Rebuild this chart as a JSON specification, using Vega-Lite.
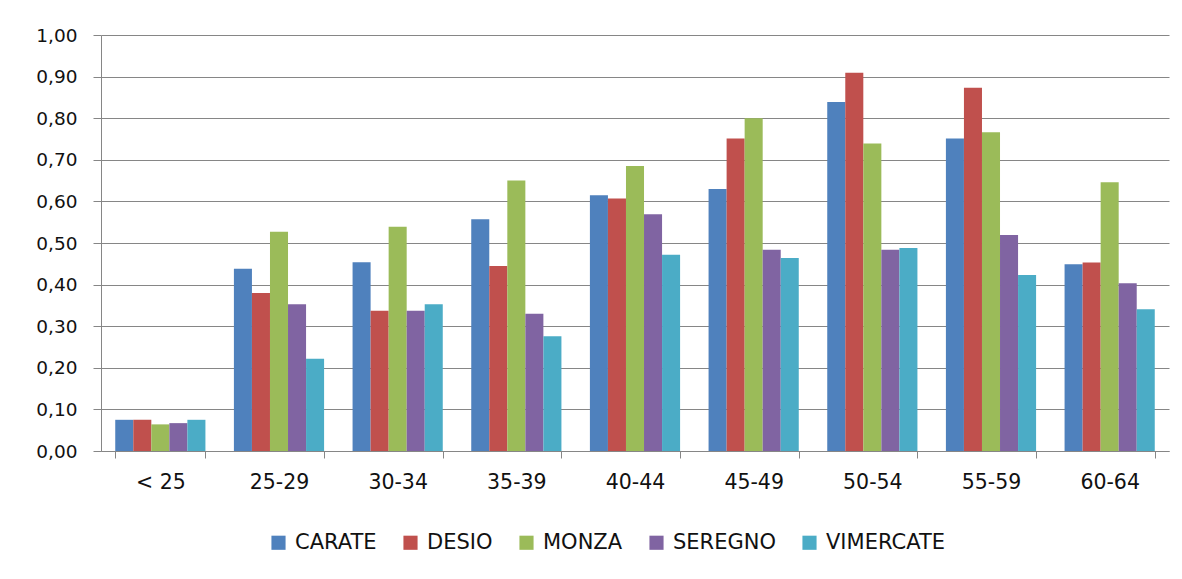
{
  "$schema": "https://vega.github.io/schema/vega-lite/v6.json",
  "autosize": {"type": "none"},
  "padding": {"left": 101, "top": 35, "right": 13, "bottom": 128},
  "width": 1068,
  "height": 416,
  "background": "white",
  "config": {
    "locale": {"number": {"decimal": ",", "thousands": ".", "grouping": [3], "currency": ["€", ""]}},
    "view": {"stroke": null},
    "font": "DejaVu Sans"
  },
  "data": {
    "values": [
      {"age": "< 25", "city": "CARATE", "v": 0.075},
      {"age": "< 25", "city": "DESIO", "v": 0.075},
      {"age": "< 25", "city": "MONZA", "v": 0.064},
      {"age": "< 25", "city": "SEREGNO", "v": 0.067},
      {"age": "< 25", "city": "VIMERCATE", "v": 0.075},
      {"age": "25-29", "city": "CARATE", "v": 0.438},
      {"age": "25-29", "city": "DESIO", "v": 0.380},
      {"age": "25-29", "city": "MONZA", "v": 0.527},
      {"age": "25-29", "city": "SEREGNO", "v": 0.353},
      {"age": "25-29", "city": "VIMERCATE", "v": 0.222},
      {"age": "30-34", "city": "CARATE", "v": 0.454},
      {"age": "30-34", "city": "DESIO", "v": 0.337},
      {"age": "30-34", "city": "MONZA", "v": 0.539},
      {"age": "30-34", "city": "SEREGNO", "v": 0.337},
      {"age": "30-34", "city": "VIMERCATE", "v": 0.353},
      {"age": "35-39", "city": "CARATE", "v": 0.557},
      {"age": "35-39", "city": "DESIO", "v": 0.445},
      {"age": "35-39", "city": "MONZA", "v": 0.650},
      {"age": "35-39", "city": "SEREGNO", "v": 0.330},
      {"age": "35-39", "city": "VIMERCATE", "v": 0.276},
      {"age": "40-44", "city": "CARATE", "v": 0.615},
      {"age": "40-44", "city": "DESIO", "v": 0.607},
      {"age": "40-44", "city": "MONZA", "v": 0.685},
      {"age": "40-44", "city": "SEREGNO", "v": 0.569},
      {"age": "40-44", "city": "VIMERCATE", "v": 0.472},
      {"age": "45-49", "city": "CARATE", "v": 0.630},
      {"age": "45-49", "city": "DESIO", "v": 0.751},
      {"age": "45-49", "city": "MONZA", "v": 0.800},
      {"age": "45-49", "city": "SEREGNO", "v": 0.484},
      {"age": "45-49", "city": "VIMERCATE", "v": 0.464},
      {"age": "50-54", "city": "CARATE", "v": 0.839},
      {"age": "50-54", "city": "DESIO", "v": 0.909},
      {"age": "50-54", "city": "MONZA", "v": 0.739},
      {"age": "50-54", "city": "SEREGNO", "v": 0.484},
      {"age": "50-54", "city": "VIMERCATE", "v": 0.488},
      {"age": "55-59", "city": "CARATE", "v": 0.751},
      {"age": "55-59", "city": "DESIO", "v": 0.873},
      {"age": "55-59", "city": "MONZA", "v": 0.766},
      {"age": "55-59", "city": "SEREGNO", "v": 0.519},
      {"age": "55-59", "city": "VIMERCATE", "v": 0.423},
      {"age": "60-64", "city": "CARATE", "v": 0.449},
      {"age": "60-64", "city": "DESIO", "v": 0.453},
      {"age": "60-64", "city": "MONZA", "v": 0.646},
      {"age": "60-64", "city": "SEREGNO", "v": 0.403},
      {"age": "60-64", "city": "VIMERCATE", "v": 0.341}
    ]
  },
  "mark": {"type": "bar"},
  "encoding": {
    "x": {
      "field": "age",
      "type": "nominal",
      "sort": null,
      "scale": {"paddingInner": 0.24, "paddingOuter": 0.12},
      "axis": {
        "title": null,
        "labelAngle": 0,
        "labelFontSize": 20.5,
        "labelColor": "#111111",
        "labelPadding": 14,
        "tickBand": "extent",
        "tickSize": 7,
        "tickColor": "#868686",
        "domainColor": "#868686",
        "grid": false
      }
    },
    "xOffset": {
      "field": "city",
      "type": "nominal",
      "scale": {"paddingInner": 0, "paddingOuter": 0}
    },
    "y": {
      "field": "v",
      "type": "quantitative",
      "scale": {"domain": [0, 1]},
      "axis": {
        "title": null,
        "values": [0, 0.1, 0.2, 0.3, 0.4, 0.5, 0.6, 0.7, 0.8, 0.9, 1.0],
        "format": ".2f",
        "labelFontSize": 18.5,
        "labelColor": "#111111",
        "labelPadding": 16,
        "tickSize": 8,
        "tickColor": "#868686",
        "domainColor": "#868686",
        "gridColor": "#868686",
        "gridOpacity": 1
      }
    },
    "color": {
      "field": "city",
      "type": "nominal",
      "scale": {
        "domain": ["CARATE", "DESIO", "MONZA", "SEREGNO", "VIMERCATE"],
        "range": ["#4F81BD", "#C0504D", "#9BBB59", "#8064A2", "#4BACC6"]
      },
      "legend": {
        "title": null,
        "orient": "none",
        "legendX": 167,
        "legendY": 497,
        "direction": "horizontal",
        "symbolType": "square",
        "symbolSize": 200,
        "symbolStrokeWidth": 0,
        "labelFontSize": 21,
        "labelColor": "#111111",
        "labelOffset": 6,
        "columnPadding": 23
      }
    }
  }
}
